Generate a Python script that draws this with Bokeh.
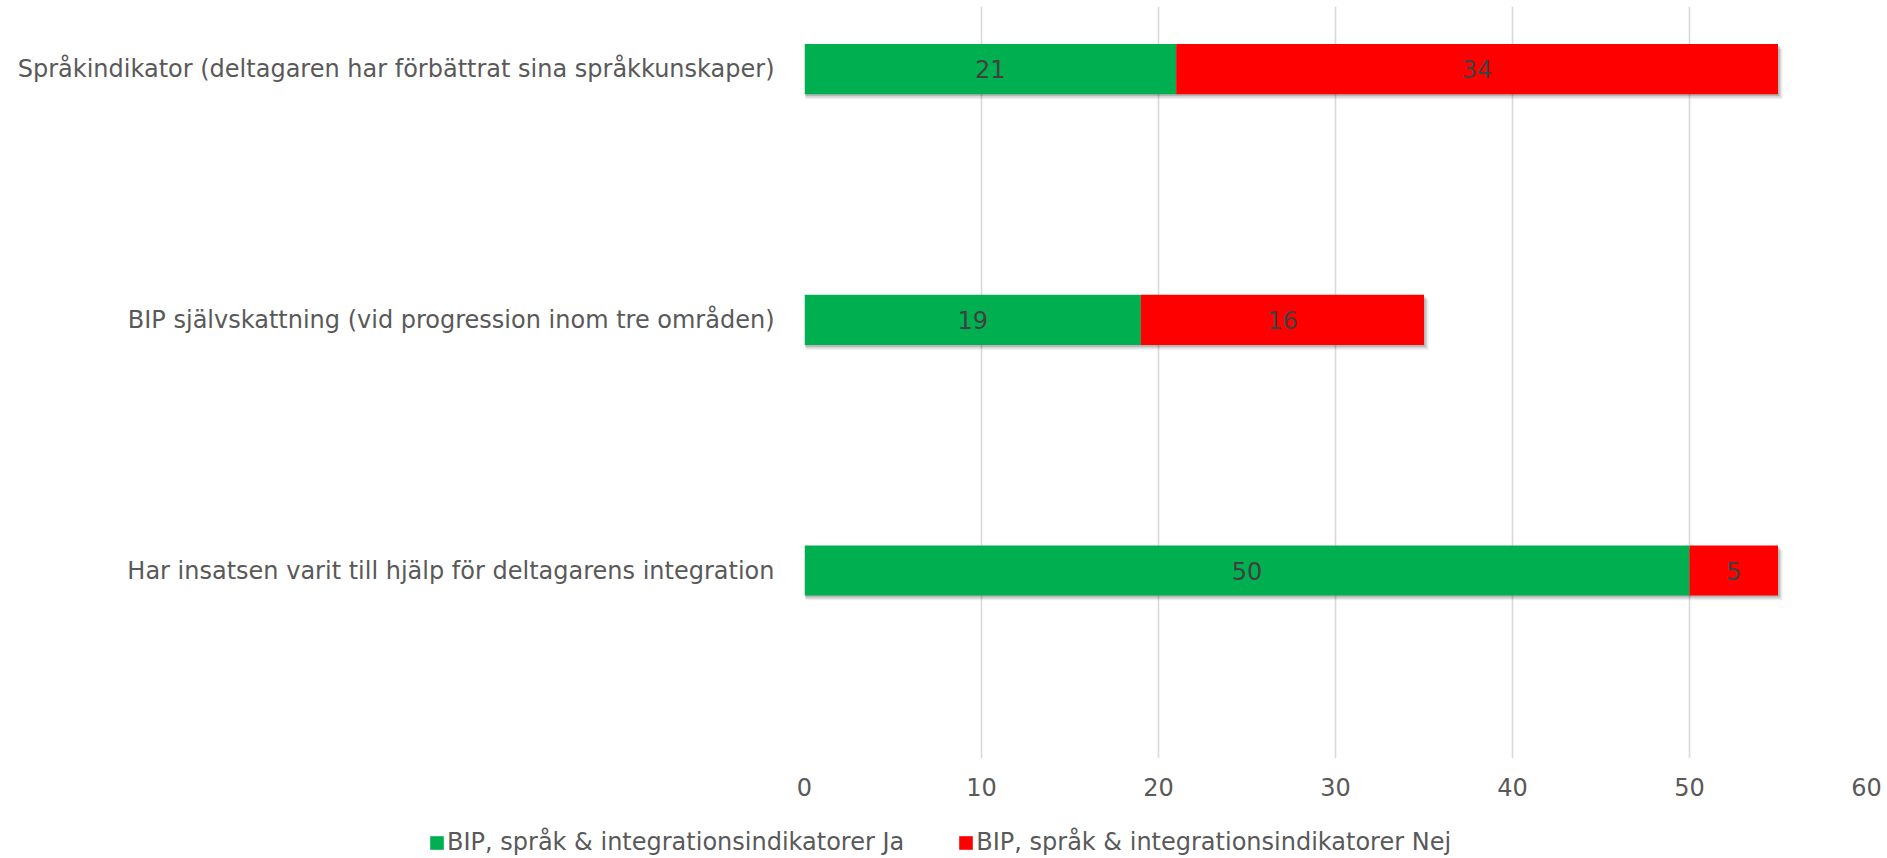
from bokeh.plotting import figure
from bokeh.models import ColumnDataSource, Range1d, Legend, LegendItem, FixedTicker
from bokeh.core.properties import value
from bokeh.transform import dodge
from bokeh.embed import file_html
from bokeh.resources import INLINE

categories = [
    "Språkindikator (deltagaren har förbättrat sina språkkunskaper)",
    "BIP självskattning (vid progression inom tre områden)",
    "Har insatsen varit till hjälp för deltagarens integration",
]
ja = [21, 19, 50]
nej = [34, 16, 5]
series_names = ["BIP, språk & integrationsindikatorer Ja", "BIP, språk & integrationsindikatorer Nej"]
x_ticks = [0, 10, 20, 30, 40, 50, 60]

FONT = "DejaVu Sans"
GREEN = "#00B050"
RED = "#FF0000"
TXT = "#595959"
FS = "24px"

n = len(categories)
pos = [n - 1 - i for i in range(n)]  # first category on top

src = ColumnDataSource(dict(
    pos=pos,
    ja=ja,
    nej=nej,
    tot=[a + b for a, b in zip(ja, nej)],
    ja_mid=[a / 2 for a in ja],
    nej_mid=[a + b / 2 for a, b in zip(ja, nej)],
    ja_lbl=[str(a) for a in ja],
    nej_lbl=[str(b) for b in nej],
))

p = figure(width=1887, height=806, output_backend="svg", toolbar_location=None,
           y_range=Range1d(-0.75, n - 0.75), x_range=Range1d(0, 60))
p.min_border_left = 804
p.min_border_right = 21
p.min_border_top = 6
p.min_border_bottom = 48
p.outline_line_color = None

p.xgrid.grid_line_color = "#D9D9D9"
p.xgrid.grid_line_width = 1.6
p.ygrid.grid_line_color = None
p.xaxis.ticker = FixedTicker(ticks=x_ticks)
p.yaxis.ticker = FixedTicker(ticks=pos)
p.yaxis.major_label_overrides = {pp: c for pp, c in zip(pos, categories)}

# soft drop shadow (style only)
for dy, dx, a in [(-0.019, 0.26, 0.07), (-0.013, 0.17, 0.10), (-0.007, 0.09, 0.14)]:
    p.hbar(y=dodge("pos", dy, range=p.y_range), left=0.05,
           right=dodge("tot", dx, range=p.x_range), height=0.2, source=src,
           fill_color="#000000", fill_alpha=a, line_color=None)

r1 = p.hbar(y="pos", left=0, right="ja", height=0.2, source=src, fill_color=GREEN, line_color=None)
r2 = p.hbar(y="pos", left="ja", right="tot", height=0.2, source=src, fill_color=RED, line_color=None)

p.text(x="ja_mid", y="pos", text="ja_lbl", source=src, text_align="center", text_baseline="middle",
       text_font=value(FONT), text_font_size=FS, text_color="#404040")
p.text(x="nej_mid", y="pos", text="nej_lbl", source=src, text_align="center", text_baseline="middle",
       text_font=value(FONT), text_font_size=FS, text_color="#404040")

for ax in (p.xaxis, p.yaxis):
    ax.axis_line_color = None
    ax.major_tick_line_color = None
    ax.minor_tick_line_color = None
    ax.major_label_text_font = FONT
    ax.major_label_text_font_size = FS
    ax.major_label_text_color = TXT
p.xaxis.major_label_standoff = 13
p.yaxis.major_label_standoff = 24

# legend strip (separate root so its frame spans the full width)
p2 = figure(width=1887, height=52, output_backend="svg", toolbar_location=None,
            x_range=Range1d(0, 1), y_range=Range1d(0, 1))
p2.min_border_left = p2.min_border_right = p2.min_border_top = p2.min_border_bottom = 0
p2.outline_line_color = None
p2.axis.visible = False
p2.grid.visible = False
nan = float("nan")
e = ColumnDataSource(dict(left=[nan], right=[nan], bottom=[nan], top=[nan]))
g1 = p2.quad(left="left", right="right", bottom="bottom", top="top", source=e,
             fill_color=GREEN, line_color=None)
g2 = p2.quad(left="left", right="right", bottom="bottom", top="top", source=e,
             fill_color=RED, line_color=None)

legend = Legend(items=[LegendItem(label=series_names[0], renderers=[g1]),
                       LegendItem(label=series_names[1], renderers=[g2])],
                orientation="horizontal", location=(428, 2),
                label_text_font=FONT, label_text_font_size=FS, label_text_color=TXT,
                glyph_width=17, glyph_height=17, label_standoff=2, spacing=53,
                border_line_color=None, background_fill_alpha=0, padding=0, margin=0)
p2.add_layout(legend, "center")

open("out.html", "w").write(file_html([p, p2], INLINE))
